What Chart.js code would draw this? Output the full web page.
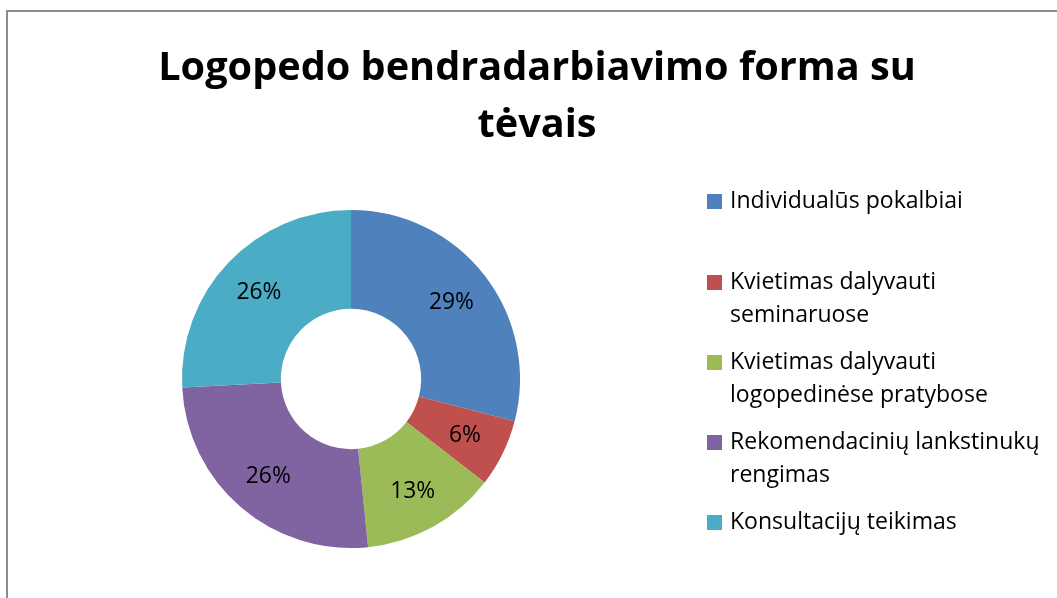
<!DOCTYPE html>
<html>
<head>
<meta charset="utf-8">
<script src="https://cdn.jsdelivr.net/npm/chart.js@4/dist/chart.umd.min.js"></script>
<style>
  html, body { margin: 0; padding: 0; background: #fff; }
  #wrap { position: relative; width: 1057px; height: 598px; overflow: hidden; }
  #frame { position: absolute; left: 6px; top: 10px; width: 1100px; height: 700px;
           border: 2px solid #8c8c8c; box-sizing: border-box; }
  canvas { position: absolute; left: 0; top: 0; }
</style>
</head>
<body>
<div id="wrap">
  <div id="frame"></div>
  <canvas id="chart" width="1057" height="598"></canvas>
</div>
<script>
// Logopedo bendradarbiavimo forma su tėvais — žiedinė diagrama
const TITLE = ['Logopedo bendradarbiavimo forma su', 'tėvais'];
const CATEGORIES = [
  ['Individualūs pokalbiai'],
  ['Kvietimas dalyvauti', 'seminaruose'],
  ['Kvietimas dalyvauti', 'logopedinėse pratybose'],
  ['Rekomendacinių lankstinukų', 'rengimas'],
  ['Konsultacijų teikimas']
];
const COUNTS = [9, 2, 4, 8, 8];
const COLORS = ['#4F81BD', '#C0504D', '#9BBB59', '#8064A2', '#4BACC6'];

const FONT = '"Open Sans", "Liberation Sans", sans-serif';

// fit a font size so that text spans a given width
function fitSize(ctx, text, weight, width) {
  ctx.font = `${weight} 40px ${FONT}`;
  return 40 * width / ctx.measureText(text).width;
}

const decor = {
  id: 'decor',
  afterDraw(chart) {
    const ctx = chart.ctx;
    const total = COUNTS.reduce((a, b) => a + b, 0);
    ctx.save();

    // title
    const ts = fitSize(ctx, TITLE[0], 'bold', 758);
    ctx.font = `bold ${ts}px ${FONT}`;
    ctx.fillStyle = '#000';
    ctx.textAlign = 'center';
    ctx.textBaseline = 'alphabetic';
    ctx.fillText(TITLE[0], 537, 80);
    ctx.fillText(TITLE[1], 537, 137);

    // percentage labels, placed a bit outside the ring's middle
    const meta = chart.getDatasetMeta(0);
    const ps = fitSize(ctx, '29%', 'normal', 45);
    ctx.font = `${ps}px ${FONT}`;
    ctx.textBaseline = 'middle';
    meta.data.forEach((arc, i) => {
      const { x, y, startAngle, endAngle, innerRadius, outerRadius } =
        arc.getProps(['x', 'y', 'startAngle', 'endAngle', 'innerRadius', 'outerRadius'], true);
      const a = (startAngle + endAngle) / 2;
      const r = innerRadius + (outerRadius - innerRadius) * 0.575;
      const pct = Math.round(COUNTS[i] / total * 100) + '%';
      ctx.fillText(pct, x + Math.cos(a) * r, y + Math.sin(a) * r + 1);
    });

    // legend
    const ls = fitSize(ctx, CATEGORIES[0][0], 'normal', 233);
    ctx.font = `${ls}px ${FONT}`;
    ctx.textAlign = 'left';
    const rows = [201, 282, 362, 442, 522];
    CATEGORIES.forEach((lines, i) => {
      const y = rows[i];
      ctx.fillStyle = COLORS[i];
      ctx.fillRect(707, y - 7, 15, 15);
      ctx.fillStyle = '#000';
      lines.forEach((t, k) => ctx.fillText(t, 730, y + k * 33));
    });
    ctx.restore();
  }
};

new Chart(document.getElementById('chart'), {
  type: 'doughnut',
  data: {
    labels: CATEGORIES.map(c => c.join(' ')),
    datasets: [{
      data: COUNTS,
      backgroundColor: COLORS,
      borderWidth: 0
    }]
  },
  options: {
    responsive: false,
    animation: false,
    cutout: '41.5%',
    layout: { padding: { left: 182, right: 537, top: 210, bottom: 50 } },
    plugins: {
      legend: { display: false },
      title: { display: false },
      tooltip: { enabled: false }
    }
  },
  plugins: [decor]
});
</script>
</body>
</html>
